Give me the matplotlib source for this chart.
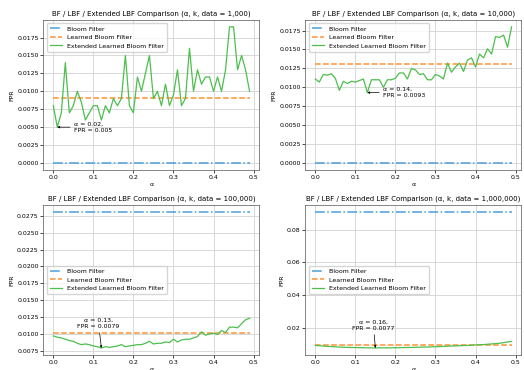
import numpy as np
import matplotlib
matplotlib.use("Agg")
import matplotlib.pyplot as plt

alpha = [round(i * 0.01, 2) for i in range(50)]

# data = 1,000
bf_1k = 0.0
lbf_1k = 0.009
elbf_1k = [0.008, 0.005, 0.007, 0.014, 0.007, 0.008, 0.010, 0.0085, 0.006, 0.007,
           0.008, 0.008, 0.006, 0.008, 0.007, 0.009, 0.008, 0.009, 0.015, 0.008,
           0.007, 0.012, 0.010, 0.0125, 0.015, 0.009, 0.010, 0.008, 0.011, 0.008,
           0.0095, 0.013, 0.008, 0.009, 0.016, 0.010, 0.013, 0.011, 0.012, 0.012,
           0.010, 0.012, 0.010, 0.013, 0.019, 0.019, 0.013, 0.015, 0.013, 0.010]

# data = 10,000
bf_10k = 0.0
lbf_10k = 0.0131
elbf_10k = [0.0111, 0.0107, 0.0117, 0.0116, 0.0118, 0.0112, 0.0096, 0.0108, 0.0105, 0.0108,
            0.0107, 0.0109, 0.0111, 0.0093, 0.0110, 0.0110, 0.0110, 0.0100, 0.0110, 0.0110,
            0.0112, 0.0119, 0.0119, 0.0111, 0.0125, 0.0123, 0.0117, 0.0118, 0.0110, 0.0110,
            0.0117, 0.0115, 0.0111, 0.0132, 0.0120, 0.0127, 0.0132, 0.0121, 0.0136, 0.0139,
            0.0127, 0.0144, 0.0139, 0.0151, 0.0144, 0.0167, 0.0166, 0.0169, 0.0153, 0.0180]

# data = 100,000
bf_100k = 0.0281
lbf_100k = 0.0101
elbf_100k = [0.0097, 0.0095, 0.0094, 0.0092, 0.0090, 0.0089, 0.0086, 0.0084, 0.0085, 0.0084,
             0.0082, 0.0081, 0.0079, 0.0081, 0.0080, 0.0081, 0.0082, 0.0084, 0.0081, 0.0082,
             0.0083, 0.0084, 0.0084, 0.0086, 0.0089, 0.0085, 0.0086, 0.0086, 0.0088, 0.0087,
             0.0092, 0.0088, 0.0091, 0.0092, 0.0092, 0.0094, 0.0096, 0.0103, 0.0098, 0.0100,
             0.0101, 0.0099, 0.0105, 0.0102, 0.0110, 0.0110, 0.0109, 0.0115, 0.0121, 0.0123]

# data = 1,000,000
bf_1m = 0.091
lbf_1m = 0.0095
elbf_1m = [0.0093, 0.0091, 0.0089, 0.0087, 0.0086, 0.0084, 0.0083, 0.0082, 0.0081, 0.0080,
           0.0080, 0.0079, 0.0079, 0.0078, 0.0078, 0.0077, 0.0078, 0.0078, 0.0078, 0.0078,
           0.0079, 0.0079, 0.0080, 0.0080, 0.0081, 0.0081, 0.0082, 0.0083, 0.0083, 0.0084,
           0.0085, 0.0086, 0.0087, 0.0088, 0.0089, 0.0090, 0.0091, 0.0092, 0.0093, 0.0094,
           0.0096, 0.0097, 0.0098, 0.0100, 0.0102, 0.0104, 0.0106, 0.0110, 0.0114, 0.0117]

titles = ["BF / LBF / Extended LBF Comparison (\u03b1, k, data = 1,000)",
          "BF / LBF / Extended LBF Comparison (\u03b1, k, data = 10,000)",
          "BF / LBF / Extended LBF Comparison (\u03b1, k, data = 100,000)",
          "BF / LBF / Extended LBF Comparison (\u03b1, k, data = 1,000,000)"]
annot_text = ["\u03b1 = 0.02,\nFPR = 0.005",
              "\u03b1 = 0.14,\nFPR = 0.0093",
              "\u03b1 = 0.13,\nFPR = 0.0079",
              "\u03b1 = 0.16,\nFPR = 0.0077"]

BLUE = "#4a9fdc"
ORANGE = "#ff9236"
GREEN = "#4cbf4c"

fig = plt.figure(figsize=(5.24, 3.70), dpi=100)
positions = [[0.083, 0.541, 0.412, 0.405],
             [0.583, 0.541, 0.412, 0.405],
             [0.083, 0.041, 0.412, 0.405],
             [0.583, 0.041, 0.412, 0.405]]

datasets = [(bf_1k, lbf_1k, elbf_1k), (bf_10k, lbf_10k, elbf_10k),
            (bf_100k, lbf_100k, elbf_100k), (bf_1m, lbf_1m, elbf_1m)]
legend_locs = ["upper left", "upper left", "center left", "center left"]
text_pos = [((0.052, 0.0050), "left", "center"),
            ((0.17, 0.0093), "left", "center"),
            ((0.113, 0.01155), "center", "center"),
            ((0.145, 0.0217), "center", "center")]
ytick_sets = [np.arange(0, 0.0176, 0.0025), np.arange(0, 0.0176, 0.0025),
              np.arange(0.0075, 0.0276, 0.0025), [0.02, 0.04, 0.06, 0.08]]
yfmt = ["{:.4f}", "{:.4f}", "{:.4f}", "{:.2f}"]

fs = 4.5
for i, (pos, (bf, lbf, elbf)) in enumerate(zip(positions, datasets)):
    ax = fig.add_axes(pos)
    ax.plot(alpha, [bf] * len(alpha), color=BLUE, linestyle="-.", lw=1.1, label="Bloom Filter")
    ax.plot(alpha, [lbf] * len(alpha), color=ORANGE, linestyle="--", lw=1.1, label="Learned Bloom Filter")
    ax.plot(alpha, elbf, color=GREEN, linestyle="-", lw=0.9, label="Extended Learned Bloom Filter")
    k = int(np.argmin(elbf))
    (tx, ty), ha, va = text_pos[i]
    ax.annotate(annot_text[i], xy=(alpha[k], elbf[k]), xytext=(tx, ty),
                ha=ha, va=va, fontsize=fs,
                arrowprops=dict(arrowstyle="-|>", color="black", lw=0.5,
                                mutation_scale=3, shrinkA=1, shrinkB=0))
    ax.set_title(titles[i], fontsize=5.0, pad=3)
    ax.set_xlabel("\u03b1", fontsize=fs, labelpad=2)
    ax.set_ylabel("FPR", fontsize=fs, labelpad=2)
    ax.set_xticks([0.0, 0.1, 0.2, 0.3, 0.4, 0.5])
    ax.set_xticklabels(["0.0", "0.1", "0.2", "0.3", "0.4", "0.5"])
    ax.set_yticks(ytick_sets[i])
    ax.set_yticklabels([yfmt[i].format(v) for v in ytick_sets[i]])
    ax.tick_params(labelsize=fs, length=2, width=0.5, pad=1.5)
    ax.grid(True, color="#d8d8d8", lw=0.7)
    for s in ax.spines.values():
        s.set_linewidth(0.5)
        s.set_color("#555555")
    ax.legend(loc=legend_locs[i], fontsize=fs, handlelength=2.0,
              borderpad=0.5, labelspacing=0.5, framealpha=0.8)

fig.savefig("out.png", dpi=100)
